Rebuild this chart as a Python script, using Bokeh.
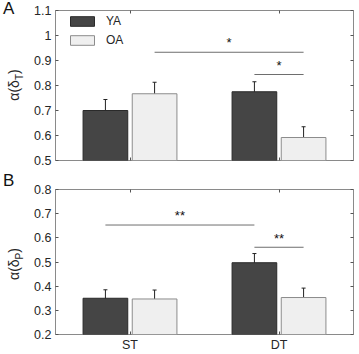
from bokeh.plotting import figure
from bokeh.layouts import column, row
from bokeh.models import (ColumnDataSource, Whisker, TeeHead, FixedTicker,
                          LinearAxis, Range1d, Div)
from bokeh.embed import file_html
from bokeh.resources import INLINE
from bokeh.core.properties import value

# ---- data -------------------------------------------------------------
conditions = ["ST", "DT"]
cond_pos = [1, 2]

# panel A: alpha(delta_T)
ya_t = [0.700, 0.775]
ya_t_err = [0.044, 0.040]
oa_t = [0.767, 0.592]
oa_t_err = [0.046, 0.043]

# panel B: alpha(delta_P)
ya_p = [0.350, 0.497]
ya_p_err = [0.035, 0.038]
oa_p = [0.347, 0.353]
oa_p_err = [0.037, 0.039]

# significance brackets: (label, group1, cond1, group2, cond2, height)
sig_t = [("*", "OA", 0, "OA", 1, 0.933),
         ("*", "YA", 1, "OA", 1, 0.844)]
sig_p = [("**", "YA", 0, "YA", 1, 0.653),
         ("**", "YA", 1, "OA", 1, 0.561)]

yticks_t = [0.5, 0.6, 0.7, 0.8, 0.9, 1.0, 1.1]
yticks_p = [0.2, 0.3, 0.4, 0.5, 0.6, 0.7, 0.8]

# ---- styling ----------------------------------------------------------
FONT = "Liberation Sans"
TXT = "#262626"
YA_FILL, YA_LINE = "#454545", "#2a2a2a"
OA_FILL, OA_LINE = "#efefef", "#8c8c8c"
OFFSET = 0.165
BAR_W = 0.30
SIDE_W = 26      # width of the strip holding panel letter + y label
FIG_W = 359 - SIDE_W
FRAME_H = 150


def group_x(group, idx):
    return cond_pos[idx] + (-OFFSET if group == "YA" else OFFSET)


def side_strip(letter, sub, height, frame_mid):
    html = (
        f'<div style="position:relative;width:{SIDE_W}px;height:{height}px;'
        f'font-family:\'{FONT}\';color:{TXT};">'
        f'<div style="position:absolute;left:3px;top:0px;font-size:17px;'
        f'color:#111111;line-height:17px;">{letter}</div>'
        f'<div style="position:absolute;left:17px;top:{frame_mid}px;'
        f'transform:translate(-50%,-50%) rotate(-90deg);font-size:14px;'
        f'white-space:nowrap;line-height:14px;">'
        f'\u03b1(\u03b4<sub style="font-size:10px;">{sub}</sub>)</div>'
        f'</div>'
    )
    return Div(text=html, width=SIDE_W, height=height, margin=0)


def make_panel(ya, ya_err, oa, oa_err, yticks, sig, height, top, bottom,
               show_x, legend):
    ylo, yhi = yticks[0], yticks[-1]
    p = figure(width=FIG_W, height=height, output_backend="svg",
               toolbar_location=None, x_range=Range1d(0.5, 2.5),
               y_range=Range1d(ylo, yhi), x_axis_location=None,
               y_axis_location=None,
               min_border_left=55 - SIDE_W, min_border_right=6,
               min_border_top=top, min_border_bottom=bottom)
    p.grid.visible = False
    p.outline_line_color = "#8a8a8a"
    p.outline_line_width = 1
    p.background_fill_color = "white"
    p.border_fill_color = "white"

    yt = FixedTicker(ticks=yticks)
    xt = FixedTicker(ticks=cond_pos)

    def style(ax):
        ax.axis_line_color = None
        ax.major_tick_in = 3
        ax.major_tick_out = 0
        ax.minor_tick_line_color = None
        ax.major_tick_line_color = "#555555"
        ax.major_label_text_font = FONT
        ax.major_label_text_color = TXT
        ax.major_label_text_font_size = "12.5px"
        ax.major_label_standoff = 4

    def mirror(ax, ticks):
        # tick marks only, no labels
        style(ax)
        ax.major_label_overrides = {t: "" for t in ticks}
        ax.major_label_standoff = 0

    left = LinearAxis(ticker=yt, major_label_overrides={1.0: "1"})
    style(left)
    p.add_layout(left, "left")
    right = LinearAxis(ticker=yt)
    mirror(right, yticks)
    p.add_layout(right, "right")
    topax = LinearAxis(ticker=xt)
    mirror(topax, cond_pos)
    p.add_layout(topax, "above")
    bot = LinearAxis(ticker=xt)
    if show_x:
        style(bot)
        bot.major_label_overrides = {1: conditions[0], 2: conditions[1]}
        bot.major_label_standoff = 3
    else:
        mirror(bot, cond_pos)
    p.add_layout(bot, "below")

    xs_ya = [group_x("YA", i) for i in range(len(conditions))]
    xs_oa = [group_x("OA", i) for i in range(len(conditions))]

    kw_ya = dict(legend_label="YA") if legend else {}
    kw_oa = dict(legend_label="OA") if legend else {}
    p.vbar(x=xs_ya, top=ya, bottom=0, width=BAR_W, fill_color=YA_FILL,
           line_color=YA_LINE, line_width=1, **kw_ya)
    p.vbar(x=xs_oa, top=oa, bottom=0, width=BAR_W, fill_color=OA_FILL,
           line_color=OA_LINE, line_width=1, **kw_oa)

    for xs, vals, errs in ((xs_ya, ya, ya_err), (xs_oa, oa, oa_err)):
        src = ColumnDataSource(dict(
            x=xs, upper=[v + e for v, e in zip(vals, errs)],
            lower=[v - e for v, e in zip(vals, errs)]))
        wk = Whisker(base="x", upper="upper", lower="lower", source=src,
                     line_color="#222222", line_width=1,
                     upper_head=TeeHead(size=4, line_color="#222222", line_width=1),
                     lower_head=TeeHead(size=4, line_color="#222222", line_width=1))
        p.add_layout(wk)

    # significance brackets
    span = yhi - ylo
    for lab, g1, c1, g2, c2, h in sig:
        x1, x2 = group_x(g1, c1), group_x(g2, c2)
        p.line(x=[x1, x2], y=[h, h], line_color="#6e6e6e", line_width=1)
        p.text(x=[(x1 + x2) / 2], y=[h + span * 0.012], text=[lab],
               text_font=value(FONT), text_font_size="13px",
               text_color="#111111", text_align="center",
               text_baseline="bottom")

    if legend:
        lg = p.legend[0]
        lg.margin = 0
        lg.padding = 0
        lg.spacing = 5
        lg.glyph_width = 30
        lg.glyph_height = 12
        lg.label_height = 12
        lg.label_standoff = 9
        box_h = 2 * 12 + 5
        # screen offset from the frame's lower-left corner
        lg.location = (12, FRAME_H - 8 - box_h)
        lg.label_text_font = FONT
        lg.label_text_font_size = "12px"
        lg.label_text_color = TXT
        lg.border_line_color = None
        lg.background_fill_alpha = 0
    return p


H_A, TOP_A, BOT_A = 172, 10, 12
H_B, TOP_B, BOT_B = 182, 17, 15

pa = make_panel(ya_t, ya_t_err, oa_t, oa_t_err, yticks_t, sig_t,
                H_A, TOP_A, BOT_A, show_x=False, legend=True)
pb = make_panel(ya_p, ya_p_err, oa_p, oa_p_err, yticks_p, sig_p,
                H_B, TOP_B, BOT_B, show_x=True, legend=False)

sa = side_strip("A", "T", H_A, TOP_A + FRAME_H // 2)
sb = side_strip("B", "P", H_B, TOP_B + FRAME_H // 2)

layout = column(row(sa, pa, spacing=0), row(sb, pb, spacing=0), spacing=0)
open("out.html", "w").write(file_html(layout, INLINE))
